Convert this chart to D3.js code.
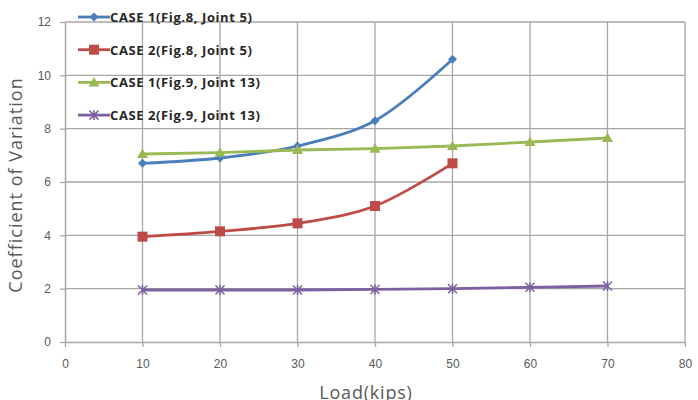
<!DOCTYPE html>
<html>
<head>
<meta charset="utf-8">
<script src="https://cdn.jsdelivr.net/npm/d3@7"></script>
<style>
  body { margin: 0; background: #fff; }
  svg { font-family: "Open Sans", "Noto Sans", sans-serif; }
</style>
</head>
<body>
<div id="chart"></div>
<script>
const loads = [10, 20, 30, 40, 50, 60, 70];
const case1Fig8 = [6.7, 6.9, 7.35, 8.3, 10.6];
const case2Fig8 = [3.95, 4.15, 4.45, 5.1, 6.7];
const case1Fig9 = [7.05, 7.1, 7.2, 7.25, 7.35, 7.5, 7.65];
const case2Fig9 = [1.95, 1.95, 1.95, 1.97, 2.0, 2.05, 2.1];
const xTicks = [0, 10, 20, 30, 40, 50, 60, 70, 80];
const yTicks = [0, 2, 4, 6, 8, 10, 12];

const series = [
  { name: 'CASE 1(Fig.8, Joint 5)', values: case1Fig8, color: '#4a7ebb', marker: 'diamond', smooth: true },
  { name: 'CASE 2(Fig.8, Joint 5)', values: case2Fig8, color: '#be4b48', marker: 'square', smooth: true },
  { name: 'CASE 1(Fig.9, Joint 13)', values: case1Fig9, color: '#98b954', marker: 'triangle', smooth: false },
  { name: 'CASE 2(Fig.9, Joint 13)', values: case2Fig9, color: '#7d60a0', marker: 'cross', smooth: false },
];

const width = 698;
const height = 400;
const margin = { top: 22, right: 13, bottom: 58, left: 65 };

const svg = d3.select('#chart')
  .append('svg')
  .attr('width', width)
  .attr('height', height);

const x = d3.scaleLinear().domain([0, 80]).range([margin.left, width - margin.right]);
const y = d3.scaleLinear().domain([0, 12]).range([height - margin.bottom, margin.top]);

// gridlines
svg.append('g')
  .selectAll('line')
  .data(yTicks.slice(1))
  .enter()
  .append('line')
  .attr('x1', x(0)).attr('x2', x(80))
  .attr('y1', d => y(d)).attr('y2', d => y(d))
  .attr('stroke', '#a6a6a6').attr('stroke-width', 1.3);

svg.append('g')
  .selectAll('line')
  .data(xTicks.slice(1))
  .enter()
  .append('line')
  .attr('x1', d => x(d)).attr('x2', d => x(d))
  .attr('y1', y(0)).attr('y2', y(12))
  .attr('stroke', '#a6a6a6').attr('stroke-width', 1.3);

// axes
const xAxis = svg.append('g')
  .attr('transform', `translate(0,${y(0)})`)
  .call(d3.axisBottom(x).tickValues(xTicks).tickSize(5).tickSizeOuter(0).tickPadding(12));
const yAxis = svg.append('g')
  .attr('transform', `translate(${x(0)},0)`)
  .call(d3.axisLeft(y).tickValues(yTicks).tickSize(5).tickSizeOuter(0).tickPadding(9));

[xAxis, yAxis].forEach(g => {
  g.select('.domain').attr('stroke', '#a6a6a6').attr('stroke-width', 1.5);
  g.selectAll('.tick line').attr('stroke', '#a6a6a6').attr('stroke-width', 1.3);
  g.selectAll('text').attr('fill', '#595959').style('font-size', '12px');
});

// axis titles
svg.append('text')
  .attr('x', 366)
  .attr('y', 399)
  .attr('text-anchor', 'middle')
  .attr('fill', '#595959')
  .style('font-size', '18px')
  .style('letter-spacing', '0.8px')
  .text('Load(kips)');

svg.append('text')
  .attr('transform', `translate(22,${(y(0) + y(12)) / 2 + 3}) rotate(-90)`)
  .attr('text-anchor', 'middle')
  .attr('fill', '#595959')
  .style('font-size', '18px')
  .style('letter-spacing', '1px')
  .text('Coefficient of Variation');

function drawMarker(g, type, color) {
  if (type === 'diamond') {
    g.append('path').attr('d', 'M0,-4.5L4.5,0L0,4.5L-4.5,0Z').attr('fill', color);
  } else if (type === 'square') {
    g.append('rect').attr('x', -5).attr('y', -5).attr('width', 10).attr('height', 10).attr('fill', color);
  } else if (type === 'triangle') {
    g.append('path').attr('d', 'M0,-5.5L5.5,4L-5.5,4Z').attr('fill', color);
  } else {
    g.append('path').attr('d', 'M-4.5,-4.5L4.5,4.5M-4.5,4.5L4.5,-4.5M0,-5L0,5')
      .attr('stroke', color).attr('stroke-width', 1.5).attr('fill', 'none');
  }
}

// series
series.forEach(s => {
  const pts = s.values.map((v, i) => [loads[i], v]);
  const line = d3.line()
    .x(d => x(d[0]))
    .y(d => y(d[1]))
    .curve(s.smooth ? d3.curveCatmullRom.alpha(0.5) : d3.curveLinear);
  svg.append('path')
    .datum(pts)
    .attr('d', line)
    .attr('fill', 'none')
    .attr('stroke', s.color)
    .attr('stroke-width', 2.8);
  svg.append('g')
    .selectAll('g')
    .data(pts)
    .enter()
    .append('g')
    .attr('transform', d => `translate(${x(d[0])},${y(d[1])})`)
    .each(function () { drawMarker(d3.select(this), s.marker, s.color); });
});

// legend
const legend = svg.append('g').attr('transform', 'translate(78,17)');
series.forEach((s, i) => {
  const row = legend.append('g').attr('transform', `translate(0,${i * 32.7})`);
  row.append('line')
    .attr('x1', 0).attr('x2', 32)
    .attr('stroke', s.color).attr('stroke-width', 2.8);
  drawMarker(row.append('g').attr('transform', 'translate(16,0)'), s.marker, s.color);
  row.append('text')
    .attr('x', 32)
    .attr('y', 5)
    .attr('fill', '#262626')
    .style('font-size', '13px')
    .style('font-weight', 'bold')
    .style('letter-spacing', '0.6px')
    .text(s.name);
});
</script>
</body>
</html>
